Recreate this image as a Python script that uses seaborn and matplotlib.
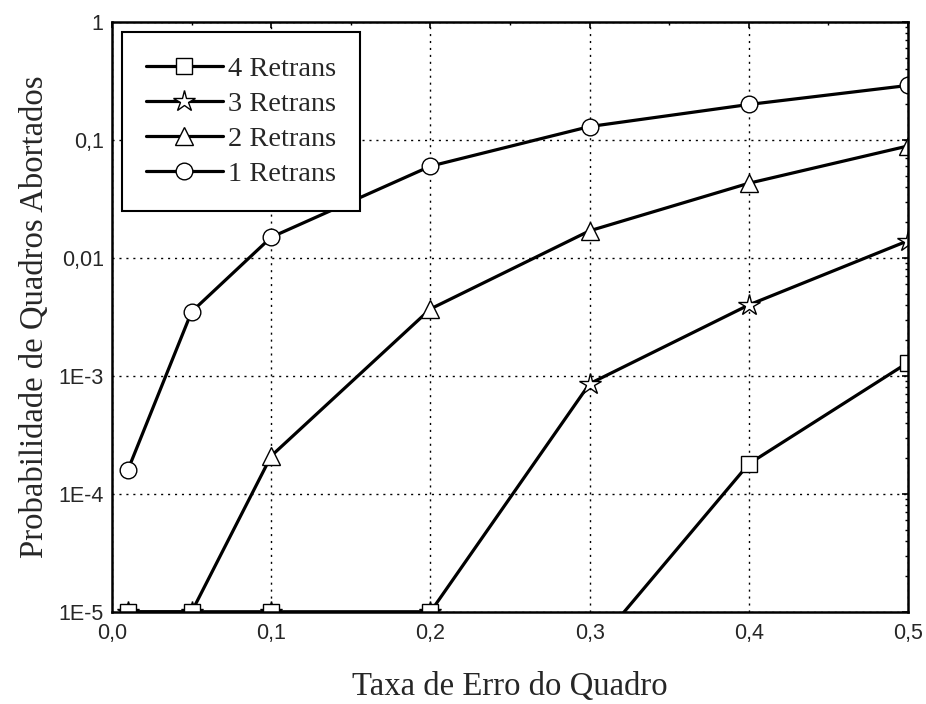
import numpy as np
import pandas as pd
import matplotlib
matplotlib.use("Agg")
import matplotlib.pyplot as plt
import seaborn as sns
from matplotlib.ticker import FixedLocator, FixedFormatter, LogLocator, MultipleLocator, NullFormatter

# ---- data ----
x_vals = [0.01, 0.05, 0.1, 0.2, 0.3, 0.4, 0.5]
retrans1 = [1.6e-4, 3.5e-3, 0.015, 0.06, 0.13, 0.20, 0.29]
retrans2 = [1e-5, 1e-5, 2.1e-4, 3.7e-3, 0.017, 0.043, 0.089]
retrans3 = [1e-5, 1e-5, 1e-5, 1e-5, 8.6e-4, 4.0e-3, 0.014]
retrans4 = [1e-5, 1e-5, 1e-5, 1e-5, 4.5e-6, 1.8e-4, 1.3e-3]
series_names = ["1 Retrans", "2 Retrans", "3 Retrans", "4 Retrans"]
series_markers = ["o", "^", "*", "s"]
y_ticks = [1e-5, 1e-4, 1e-3, 1e-2, 1e-1, 1]
y_tick_labels = ["1E-5", "1E-4", "1E-3", "0,01", "0,1", "1"]
x_ticks = [0.0, 0.1, 0.2, 0.3, 0.4, 0.5]
x_tick_labels = ["0,0", "0,1", "0,2", "0,3", "0,4", "0,5"]

sns.set_style("white")
plt.rcParams["font.family"] = ["Liberation Sans", "DejaVu Sans"]

fig = plt.figure(figsize=(9.26, 7.04), dpi=100)
ax = fig.add_axes([112/926, 1-612/704, (908-112)/926, (612-22)/704])

all_series = [retrans1, retrans2, retrans3, retrans4]
sizes = {"o": 12, "^": 13, "*": 16, "s": 11}
for name, ys, mk in zip(series_names, all_series, series_markers):
    df = pd.DataFrame({"x": x_vals, "y": ys})
    sns.lineplot(data=df, x="x", y="y", ax=ax, color="black", linewidth=2.3,
                 marker=mk, markersize=sizes[mk], markerfacecolor="white",
                 markeredgecolor="black", markeredgewidth=1.0, sort=False,
                 estimator=None, label=name)

ax.set_yscale("log")
ax.set_xlim(0, 0.5)
ax.set_ylim(1e-5, 1)

ax.yaxis.set_major_locator(FixedLocator(y_ticks))
ax.yaxis.set_major_formatter(FixedFormatter(y_tick_labels))
ax.yaxis.set_minor_locator(LogLocator(base=10, subs=np.arange(2, 10)))
ax.yaxis.set_minor_formatter(NullFormatter())
ax.xaxis.set_major_locator(FixedLocator(x_ticks))
ax.xaxis.set_major_formatter(FixedFormatter(x_tick_labels))
ax.xaxis.set_minor_locator(MultipleLocator(0.05))

ax.tick_params(which="both", direction="in", top=True, right=True,
               color="black", labelsize=15.5)
ax.tick_params(which="major", length=4, width=1.2)
ax.tick_params(axis="x", which="major", pad=8)
ax.tick_params(axis="y", which="major", pad=6)
ax.tick_params(which="minor", length=2.5, width=1.0)

ax.grid(True, which="major", color="black", linestyle=(0, (1.5, 3.5)), linewidth=1.0)
for s in ax.spines.values():
    s.set_visible(True)
    s.set_color("black")
    s.set_linewidth(1.8)

serif = ["Liberation Serif", "DejaVu Serif"]
ax.set_xlabel("Taxa de Erro do Quadro", family=serif, fontsize=23.6, labelpad=20)
ax.set_ylabel("Probabilidade de Quadros Abortados", family=serif, fontsize=23.6, labelpad=6)

h, l = ax.get_legend_handles_labels()
order = [3, 2, 1, 0]
leg = ax.legend([h[i] for i in order], [l[i] for i in order], loc="upper left",
                prop={"family": serif, "size": 20.4}, frameon=True, fancybox=False,
                edgecolor="black", handlelength=2.7, handletextpad=0.2,
                labelspacing=0.32, borderpad=0.85, borderaxespad=0.35, framealpha=1)
leg.get_frame().set_linewidth(1.5)

fig.savefig("out.png", dpi=100)
